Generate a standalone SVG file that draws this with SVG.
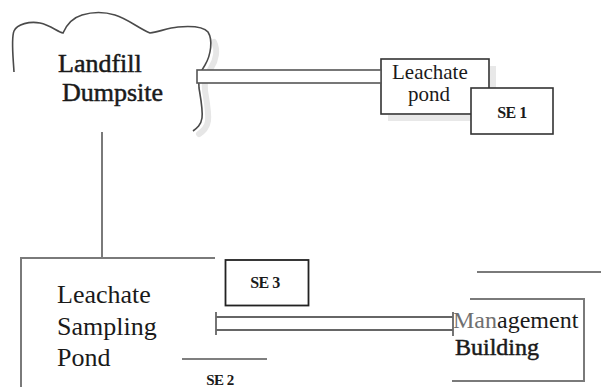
<svg xmlns="http://www.w3.org/2000/svg" width="601" height="387" viewBox="0 0 601 387">
<style>
  .t { font-family: "Liberation Serif", "Times New Roman", serif; fill: #1a1a1a; }
  .heavy { stroke: #1a1a1a; stroke-width: 0.5; }
  .conn { fill: none; stroke: #7a7a7a; stroke-width: 2; }
  .pipe { fill: none; stroke: #666; stroke-width: 1.8; }
  .box { fill: #fff; stroke: #333; stroke-width: 1.6; }
  .shadow { fill: none; stroke: #e6e6e6; stroke-width: 6; stroke-linecap: round; }
</style>
<rect width="601" height="387" fill="#fff"/>

<g id="landfill">
  <path class="shadow" d="M 214,42 C 218,50 216,60 211,68 C 206,75 204,83 205,91 C 207,103 209,113 208,121 C 207,128 203,131 199,134"/>
  <path d="M 14,72 C 13,55 11,38 14,31 C 17,24 30,21 40,23 C 50,25 58,32 63,33 C 66,26 72,18 82,15 C 92,12 105,12 115,15 C 128,19 138,28 150,33 C 158,32 168,28 178,27 C 190,26 203,26 208,32 C 213,40 211,55 205,65 C 200,72 198,80 199,88 C 201,100 203,110 202,118 C 201,125 197,128 193,131" fill="none" stroke="#4a4a4a" stroke-width="1.6"/>
  <text class="t heavy" x="58" y="72" font-size="26">Landfill</text>
  <text class="t heavy" x="62" y="101" font-size="26">Dumpsite</text>
</g>

<g id="leachate-pond">
  <path d="M 493,66 L 493,118 L 388,118" fill="none" stroke="#e8e8e8" stroke-width="6"/>
  <rect class="box" x="381" y="59" width="108" height="55"/>
  <text class="t" x="392" y="79" font-size="21">Leachate</text>
  <text class="t" x="408" y="101" font-size="21">pond</text>
</g>

<g id="se1">
  <rect class="box" x="471" y="88" width="82" height="46"/>
  <text class="t" x="512" y="118" font-size="16" font-weight="bold" text-anchor="middle" letter-spacing="-0.5">SE 1</text>
</g>

<g id="sampling-pond">
  <text class="t" x="57" y="303" font-size="26">Leachate</text>
  <text class="t" x="57" y="335" font-size="26">Sampling</text>
  <text class="t" x="57" y="366" font-size="26">Pond</text>
</g>

<g id="se3">
  <rect x="225.5" y="260" width="83" height="45.5" fill="#fff" stroke="#222" stroke-width="1.8"/>
  <text class="t" x="265" y="288" font-size="16" font-weight="bold" text-anchor="middle" letter-spacing="-0.5">SE 3</text>
</g>

<g id="se2">
  <text class="t" x="220" y="385" font-size="15" font-weight="bold" text-anchor="middle" letter-spacing="-0.5">SE 2</text>
</g>

<g id="management">
  <path class="conn" d="M 470,299 L 584,299 L 584,381 L 452,381"/>
  <text class="t" x="453" y="328" font-size="24"><tspan fill="#707070">Man</tspan>agement</text>
  <text class="t heavy" x="455" y="355" font-size="24">Building</text>
</g>

<g id="connectors">
  <rect x="197" y="70" width="184" height="13" fill="#fff" stroke="#555" stroke-width="1.6"/>
  <path class="conn" d="M 102,132 L 102,258"/>
  <path class="conn" d="M 215,258 L 21,258 L 21,387"/>
  <path class="pipe" d="M 216,317 L 453,317 M 216,330 L 453,330 M 216,312 L 216,335 M 453,312 L 453,336"/>
  <path d="M 182,359 L 267,359" fill="none" stroke="#555" stroke-width="1.3"/>
  <path class="conn" d="M 477,272 L 601,272"/>
</g>
</svg>
